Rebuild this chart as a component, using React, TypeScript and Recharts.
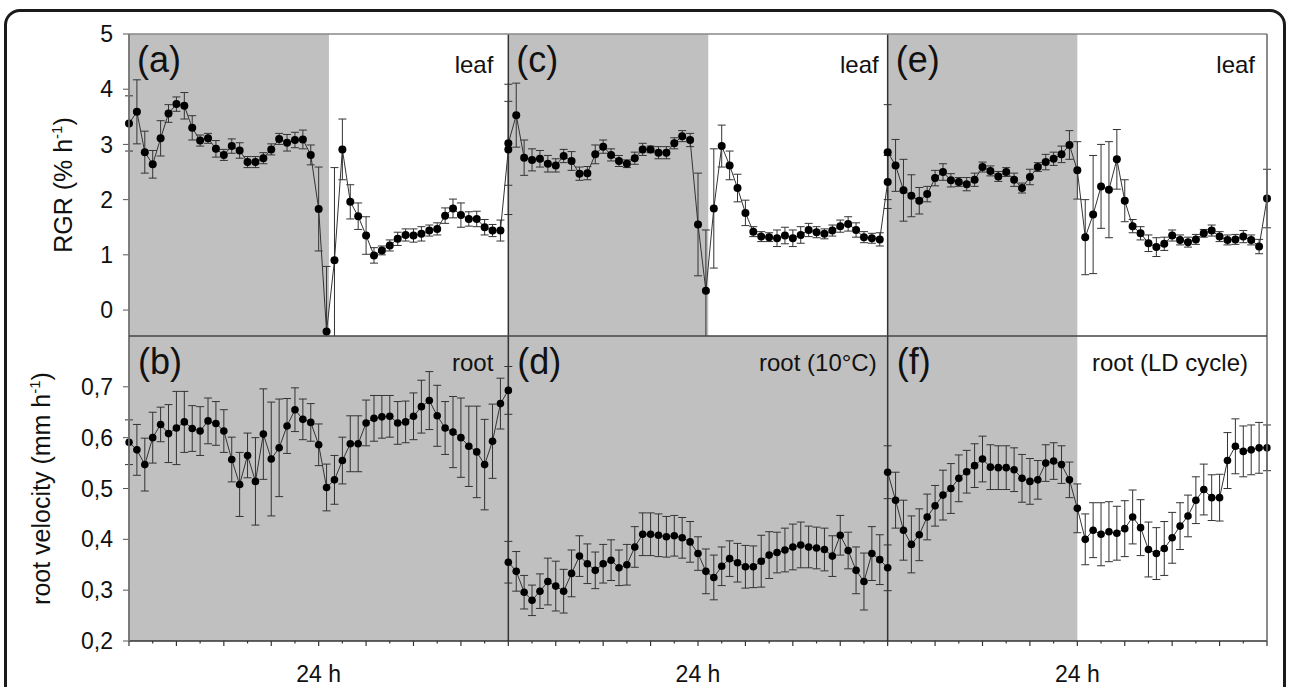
import React from 'react';
import { LineChart, Line, XAxis, YAxis, ErrorBar, ReferenceArea, ReferenceLine } from 'recharts';

// ---------- data (half-hour steps, 24 h per panel) ----------
const PANEL_HOURS = 24;
const STEP_H = 0.5;

// leaf RGR (% h-1)
const leafA = [3.38, 3.59, 2.86, 2.64, 3.11, 3.56, 3.73, 3.70, 3.30, 3.07, 3.11, 2.92, 2.81, 2.97, 2.89, 2.68, 2.68, 2.75, 2.91, 3.10, 3.03, 3.08, 3.09, 2.81, 1.83, -0.39, 0.90, 2.91, 1.96, 1.70, 1.35, 0.99, 1.08, 1.17, 1.29, 1.36, 1.35, 1.38, 1.44, 1.47, 1.71, 1.84, 1.72, 1.65, 1.65, 1.50, 1.44, 1.44, 2.91];
const leafAErr = [0.50, 0.58, 0.38, 0.25, 0.32, 0.16, 0.13, 0.24, 0.22, 0.10, 0.09, 0.15, 0.10, 0.13, 0.14, 0.10, 0.10, 0.10, 0.10, 0.10, 0.15, 0.14, 0.17, 0.18, 0.76, 1.18, 1.68, 0.55, 0.31, 0.24, 0.34, 0.14, 0.08, 0.10, 0.12, 0.11, 0.12, 0.13, 0.10, 0.11, 0.14, 0.17, 0.22, 0.13, 0.14, 0.14, 0.11, 0.19, 1.18];
const leafC = [3.02, 3.53, 2.76, 2.72, 2.74, 2.65, 2.62, 2.79, 2.70, 2.47, 2.48, 2.82, 2.96, 2.81, 2.70, 2.65, 2.75, 2.91, 2.91, 2.85, 2.85, 3.02, 3.15, 3.08, 1.55, 0.35, 1.84, 2.97, 2.62, 2.21, 1.76, 1.42, 1.33, 1.32, 1.30, 1.35, 1.30, 1.36, 1.45, 1.41, 1.38, 1.44, 1.52, 1.56, 1.45, 1.32, 1.30, 1.28, 2.32];
const leafCErr = [0.76, 0.58, 0.32, 0.20, 0.15, 0.15, 0.12, 0.12, 0.17, 0.12, 0.12, 0.17, 0.12, 0.11, 0.10, 0.07, 0.11, 0.11, 0.06, 0.11, 0.11, 0.10, 0.10, 0.12, 0.93, 1.10, 1.08, 0.38, 0.26, 0.25, 0.23, 0.09, 0.09, 0.08, 0.15, 0.15, 0.15, 0.15, 0.12, 0.10, 0.09, 0.10, 0.11, 0.13, 0.13, 0.10, 0.09, 0.12, 0.48];
const leafE = [2.86, 2.62, 2.17, 2.07, 1.98, 2.10, 2.39, 2.50, 2.35, 2.32, 2.28, 2.36, 2.59, 2.52, 2.42, 2.50, 2.36, 2.21, 2.41, 2.59, 2.68, 2.74, 2.82, 2.99, 2.53, 1.32, 1.73, 2.24, 2.18, 2.73, 1.98, 1.52, 1.39, 1.21, 1.14, 1.20, 1.35, 1.27, 1.23, 1.28, 1.39, 1.44, 1.33, 1.27, 1.28, 1.33, 1.27, 1.15, 2.02];
const leafEErr = [0.86, 0.47, 0.56, 0.38, 0.24, 0.14, 0.14, 0.15, 0.12, 0.08, 0.12, 0.12, 0.09, 0.09, 0.09, 0.08, 0.12, 0.09, 0.14, 0.08, 0.14, 0.12, 0.15, 0.26, 0.52, 0.68, 1.07, 0.76, 0.87, 0.54, 0.38, 0.12, 0.12, 0.15, 0.17, 0.12, 0.10, 0.09, 0.09, 0.09, 0.07, 0.10, 0.09, 0.09, 0.09, 0.11, 0.09, 0.13, 0.53];

// root velocity (mm h-1)
const rootB = [0.591, 0.576, 0.547, 0.600, 0.626, 0.608, 0.619, 0.631, 0.618, 0.613, 0.633, 0.628, 0.613, 0.557, 0.508, 0.565, 0.514, 0.607, 0.558, 0.580, 0.623, 0.655, 0.636, 0.630, 0.586, 0.502, 0.517, 0.555, 0.588, 0.588, 0.629, 0.638, 0.641, 0.642, 0.629, 0.631, 0.642, 0.661, 0.673, 0.643, 0.619, 0.611, 0.600, 0.583, 0.572, 0.547, 0.593, 0.667, 0.693];
const rootBErr = [0.044, 0.050, 0.052, 0.050, 0.034, 0.057, 0.072, 0.060, 0.045, 0.048, 0.045, 0.043, 0.042, 0.044, 0.063, 0.044, 0.086, 0.089, 0.112, 0.096, 0.054, 0.043, 0.040, 0.037, 0.041, 0.046, 0.048, 0.046, 0.055, 0.055, 0.045, 0.045, 0.042, 0.041, 0.042, 0.041, 0.046, 0.052, 0.057, 0.060, 0.052, 0.070, 0.078, 0.079, 0.090, 0.089, 0.073, 0.050, 0.047];
const rootD = [0.355, 0.337, 0.296, 0.280, 0.298, 0.317, 0.308, 0.298, 0.333, 0.367, 0.352, 0.339, 0.352, 0.359, 0.344, 0.350, 0.385, 0.410, 0.410, 0.408, 0.405, 0.407, 0.403, 0.395, 0.372, 0.337, 0.325, 0.347, 0.362, 0.354, 0.346, 0.346, 0.357, 0.369, 0.374, 0.379, 0.385, 0.389, 0.385, 0.383, 0.380, 0.367, 0.408, 0.378, 0.339, 0.317, 0.372, 0.360, 0.344];
const rootDErr = [0.041, 0.039, 0.033, 0.030, 0.034, 0.046, 0.049, 0.043, 0.046, 0.040, 0.039, 0.036, 0.038, 0.040, 0.035, 0.040, 0.040, 0.042, 0.042, 0.042, 0.040, 0.040, 0.040, 0.040, 0.033, 0.044, 0.044, 0.038, 0.035, 0.038, 0.042, 0.041, 0.051, 0.046, 0.040, 0.043, 0.045, 0.045, 0.041, 0.041, 0.042, 0.040, 0.039, 0.036, 0.046, 0.056, 0.053, 0.049, 0.045];
const rootF = [0.532, 0.477, 0.418, 0.390, 0.409, 0.444, 0.466, 0.487, 0.500, 0.520, 0.533, 0.545, 0.558, 0.542, 0.541, 0.541, 0.537, 0.520, 0.514, 0.517, 0.550, 0.554, 0.547, 0.517, 0.461, 0.400, 0.418, 0.410, 0.415, 0.412, 0.421, 0.444, 0.423, 0.380, 0.372, 0.382, 0.403, 0.426, 0.446, 0.477, 0.498, 0.482, 0.482, 0.555, 0.583, 0.573, 0.576, 0.580, 0.580];
const rootFErr = [0.052, 0.055, 0.059, 0.056, 0.051, 0.045, 0.040, 0.049, 0.049, 0.046, 0.042, 0.043, 0.045, 0.044, 0.043, 0.043, 0.043, 0.047, 0.045, 0.038, 0.036, 0.036, 0.037, 0.035, 0.048, 0.050, 0.054, 0.062, 0.059, 0.053, 0.055, 0.053, 0.055, 0.054, 0.051, 0.053, 0.050, 0.046, 0.041, 0.046, 0.050, 0.045, 0.046, 0.055, 0.054, 0.050, 0.049, 0.050, 0.045];

// dark periods (hours on the continuous 0-72 h axis)
const leafDark = [[0, 12.65], [24, 36.65], [48, 60]];
const rootDark = [[0, 24], [24, 48], [48, 60]];
const panelBounds = [24, 48];

// tick labels
const leafTicks = [0, 1, 2, 3, 4, 5];
const rootTicks = [0.2, 0.3, 0.4, 0.5, 0.6, 0.7];
const xMajorTicks = [0, 3, 6, 9, 12, 15, 18, 21, 24, 27, 30, 33, 36, 39, 42, 45, 48, 51, 54, 57, 60, 63, 66, 69, 72];
const xMinorTicks = [1.5, 4.5, 7.5, 10.5, 13.5, 16.5, 19.5, 22.5, 25.5, 28.5, 31.5, 34.5, 37.5, 40.5, 43.5, 46.5, 49.5, 52.5, 55.5, 58.5, 61.5, 64.5, 67.5, 70.5];
const xLabelTicks = [12, 36, 60];
const xLabelText = '24 h';
const topPanelLetters = ['(a)', '(c)', '(e)'];
const topPanelNames = ['leaf', 'leaf', 'leaf'];
const bottomPanelLetters = ['(b)', '(d)', '(f)'];
const bottomPanelNames = ['root', 'root (10°C)', 'root (LD cycle)'];

function buildRow(series: number[][], errs: number[][]) {
  const out: { h: number; v: number; err: number }[] = [];
  series.forEach((vals, p) =>
    vals.forEach((v, i) => out.push({ h: p * PANEL_HOURS + i * STEP_H, v, err: errs[p][i] }))
  );
  return out;
}

const leafRow = buildRow([leafA, leafC, leafE], [leafAErr, leafCErr, leafEErr]);
const rootRow = buildRow([rootB, rootD, rootF], [rootBErr, rootDErr, rootFErr]);

// ---------- layout ----------
const W = 1290;
const H = 687;
const PLOT_L = 129;
const PLOT_R = 1267;
const TOP_T = 34;
const MID = 336;
const BOT_B = 641;
const FONT = '"Liberation Sans", Arial, Helvetica, sans-serif';
const GREY = '#c0c0c0';
const panelW = (PLOT_R - PLOT_L) / 3;
const topNameGap = [15, 9, 12];
const bottomNameGap = [15, 11, 19];

const allXTicks = [...xMajorTicks, ...xMinorTicks].sort((a, b) => a - b);

const XTick = (props: any) => {
  const { x, y, payload } = props;
  const v = payload.value;
  const major = xMajorTicks.includes(v);
  return (
    <g>
      <line x1={x} x2={x} y1={y} y2={y + (major ? 5 : 2.5)} stroke="#333" strokeWidth={1.2} />
      {xLabelTicks.includes(v) && (
        <text x={x} y={y + 41} textAnchor="middle" fontSize={23} fontFamily={FONT} fill="#111">
          {xLabelText}
        </text>
      )}
    </g>
  );
};

const dotStyle = (r: number) => ({ r, fill: '#000', stroke: '#000', strokeWidth: 0, clipDot: false });

export default function App() {
  return (
    <div style={{ position: 'absolute', left: 0, top: 0, width: W, height: H, overflow: 'hidden', background: '#fff' }}>
      {/* top row : leaf RGR */}
      <div style={{ position: 'absolute', left: 0, top: 0 }}>
        <LineChart width={W} height={340} data={leafRow} margin={{ top: TOP_T, right: W - PLOT_R, bottom: 4, left: 69 }}>
          <XAxis type="number" dataKey="h" domain={[0, 72]} hide />
          <YAxis
            type="number"
            domain={[-0.47, 5]}
            allowDataOverflow
            ticks={leafTicks}
            interval={0}
            width={60}
            tickSize={6}
            tickMargin={10}
            axisLine={{ stroke: '#777', strokeWidth: 1.5 }}
            tickLine={{ stroke: '#555' }}
            tick={{ fill: '#111', fontSize: 23, fontFamily: FONT }}
          />
          {leafDark.map(([a, b]) => (
            <ReferenceArea key={'l' + a} x1={a} x2={b} fill={GREY} fillOpacity={1} stroke="none" />
          ))}
          {panelBounds.map((b) => (
            <ReferenceLine key={'lb' + b} x={b} stroke="#333" strokeWidth={1.5} />
          ))}
          <Line
            type="linear"
            dataKey="v"
            stroke="#333"
            strokeWidth={1}
            dot={dotStyle(4)}
            activeDot={false}
            isAnimationActive={false}
          >
            <ErrorBar dataKey="err" width={4} stroke="#333" strokeWidth={1} direction="y" />
          </Line>
        </LineChart>
      </div>

      {/* bottom row : root velocity */}
      <div style={{ position: 'absolute', left: 0, top: 0 }}>
        <LineChart width={W} height={H} data={rootRow} margin={{ top: MID, right: W - PLOT_R, bottom: 6, left: 69 }}>
          <XAxis
            type="number"
            dataKey="h"
            domain={[0, 72]}
            ticks={allXTicks}
            interval={0}
            height={40}
            tickSize={0}
            tickMargin={0}
            tickLine={false}
            axisLine={{ stroke: '#333', strokeWidth: 1.5 }}
            tick={<XTick />}
          />
          <YAxis
            type="number"
            domain={[0.2, 0.8]}
            allowDataOverflow
            ticks={rootTicks}
            interval={0}
            width={60}
            tickSize={6}
            tickMargin={10}
            tickFormatter={(v: number) => v.toFixed(1).replace('.', ',')}
            axisLine={{ stroke: '#666', strokeWidth: 1.5 }}
            tickLine={{ stroke: '#555' }}
            tick={{ fill: '#111', fontSize: 23, fontFamily: FONT }}
          />
          {rootDark.map(([a, b]) => (
            <ReferenceArea key={'r' + a} x1={a} x2={b} fill={GREY} fillOpacity={1} stroke="none" />
          ))}
          {panelBounds.map((b) => (
            <ReferenceLine key={'rb' + b} x={b} stroke="#333" strokeWidth={1.5} />
          ))}
          <Line
            type="linear"
            dataKey="v"
            stroke="#333"
            strokeWidth={1}
            dot={dotStyle(3.8)}
            activeDot={false}
            isAnimationActive={false}
          >
            <ErrorBar dataKey="err" width={4} stroke="#333" strokeWidth={1} direction="y" />
          </Line>
        </LineChart>
      </div>

      {/* frame lines and text */}
      <svg width={W} height={H} style={{ position: 'absolute', left: 0, top: 0, pointerEvents: 'none' }}>
        <line x1={PLOT_L} x2={PLOT_R} y1={TOP_T} y2={TOP_T} stroke="#888" strokeWidth={1.5} />
        <line x1={PLOT_L} x2={PLOT_L} y1={TOP_T} y2={BOT_B} stroke="#777" strokeWidth={1.5} />
        <line x1={PLOT_R} x2={PLOT_R} y1={TOP_T} y2={BOT_B} stroke="#666" strokeWidth={1.5} />
        <line x1={PLOT_L} x2={PLOT_R} y1={MID} y2={MID} stroke="#444" strokeWidth={1.5} />

        <text transform={`translate(72, ${(TOP_T + MID) / 2}) rotate(-90)`} textAnchor="middle" fontSize={25} fontFamily={FONT} fill="#111">
          RGR (% h<tspan dy={-10} fontSize={15}>-1</tspan>
          <tspan dy={10}>)</tspan>
        </text>
        <text transform={`translate(50, ${(MID + BOT_B) / 2}) rotate(-90)`} textAnchor="middle" fontSize={25} fontFamily={FONT} fill="#111">
          root velocity (mm h<tspan dy={-10} fontSize={15}>-1</tspan>
          <tspan dy={10}>)</tspan>
        </text>

        {topPanelLetters.map((t, i) => (
          <text key={t} x={PLOT_L + i * panelW + 8} y={72} fontSize={36} fontFamily={FONT} fill="#111">{t}</text>
        ))}
        {topPanelNames.map((t, i) => (
          <text key={'tn' + i} x={PLOT_L + (i + 1) * panelW - topNameGap[i]} y={73} textAnchor="end" fontSize={24} fontFamily={FONT} fill="#111">{t}</text>
        ))}
        {bottomPanelLetters.map((t, i) => (
          <text key={t} x={PLOT_L + i * panelW + 9} y={374} fontSize={36} fontFamily={FONT} fill="#111">{t}</text>
        ))}
        {bottomPanelNames.map((t, i) => (
          <text key={'bn' + i} x={PLOT_L + (i + 1) * panelW - bottomNameGap[i]} y={371} textAnchor="end" fontSize={24} fontFamily={FONT} fill="#111">{t}</text>
        ))}
      </svg>

      {/* rounded outer frame */}
      <div
        style={{
          position: 'absolute',
          left: 4,
          top: 9,
          width: 1282,
          height: 760,
          border: '3px solid #1b1b1b',
          borderRadius: 16,
          boxSizing: 'border-box',
          pointerEvents: 'none',
        }}
      />
    </div>
  );
}
